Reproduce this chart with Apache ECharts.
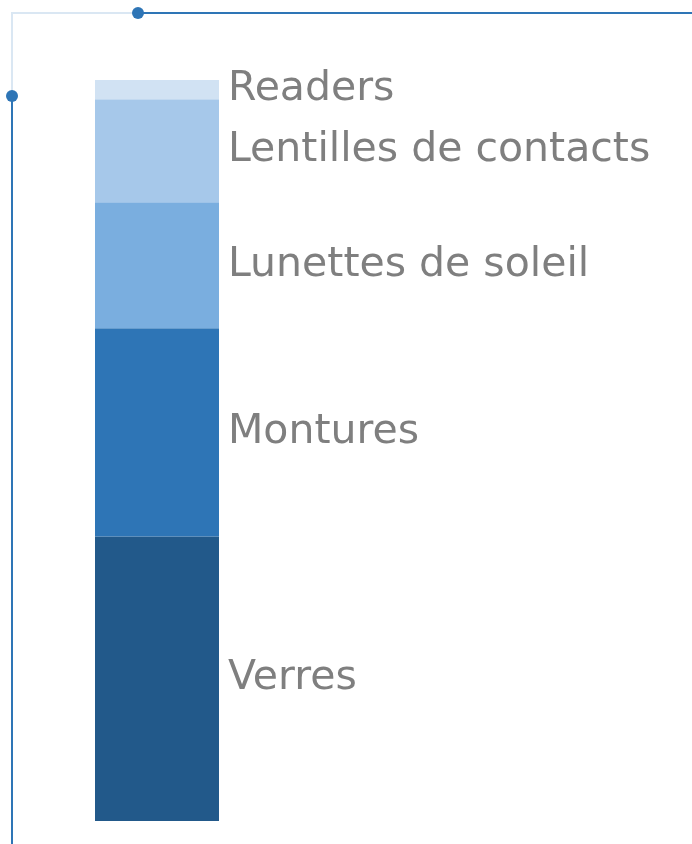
<!DOCTYPE html>
<html>
<head>
<meta charset="utf-8">
<script src="https://cdn.jsdelivr.net/npm/echarts@6/dist/echarts.min.js"></script>
<style>
  html, body { margin: 0; padding: 0; background: #fff; }
  #chart { width: 692px; height: 844px; }
</style>
</head>
<body>
<div id="chart"></div>
<script>
// share of sales, percent (bottom to top)
var categories = ['Verres', 'Montures', 'Lunettes de soleil', 'Lentilles de contacts', 'Readers'];
var values = [38.4, 28.1, 17.0, 13.9, 2.6];
var colors = ['#22598a', '#2e75b6', '#7aaedf', '#a6c8ea', '#d1e2f3'];

var chart = echarts.init(document.getElementById('chart'));

var series = categories.map(function (name, i) {
    return {
        name: name,
        type: 'bar',
        stack: 'total',
        barWidth: '100%',
        data: [values[i]],
        itemStyle: { color: colors[i] },
        label: {
            show: true,
            position: 'right',
            distance: 9,
            formatter: name,
            color: '#7f7f7f',
            fontFamily: 'DejaVu Sans',
            fontSize: 41,
            offset: [0, 0]
        }
    }
});

chart.setOption({
    animation: false,
    grid: { left: 95, width: 124, top: 80, bottom: 23 },
    xAxis: { type: 'category', data: [''], show: false },
    yAxis: { type: 'value', min: 0, max: 100, show: false },
    series: series,
    graphic: [
        // decorative frame lines
        { type: 'polyline', shape: { points: [[138, 13], [12, 13], [12, 96]] },
          style: { stroke: '#dae7f3', lineWidth: 2, fill: null } },
        { type: 'line', shape: { x1: 138, y1: 13, x2: 692, y2: 13 },
          style: { stroke: '#2e75b6', lineWidth: 2 } },
        { type: 'line', shape: { x1: 12, y1: 96, x2: 12, y2: 844 },
          style: { stroke: '#2e75b6', lineWidth: 2 } },
        { type: 'circle', shape: { cx: 138, cy: 13, r: 6 }, style: { fill: '#2e75b6' } },
        { type: 'circle', shape: { cx: 12, cy: 96, r: 6 }, style: { fill: '#2e75b6' } }
    ]
});
</script>
</body>
</html>
